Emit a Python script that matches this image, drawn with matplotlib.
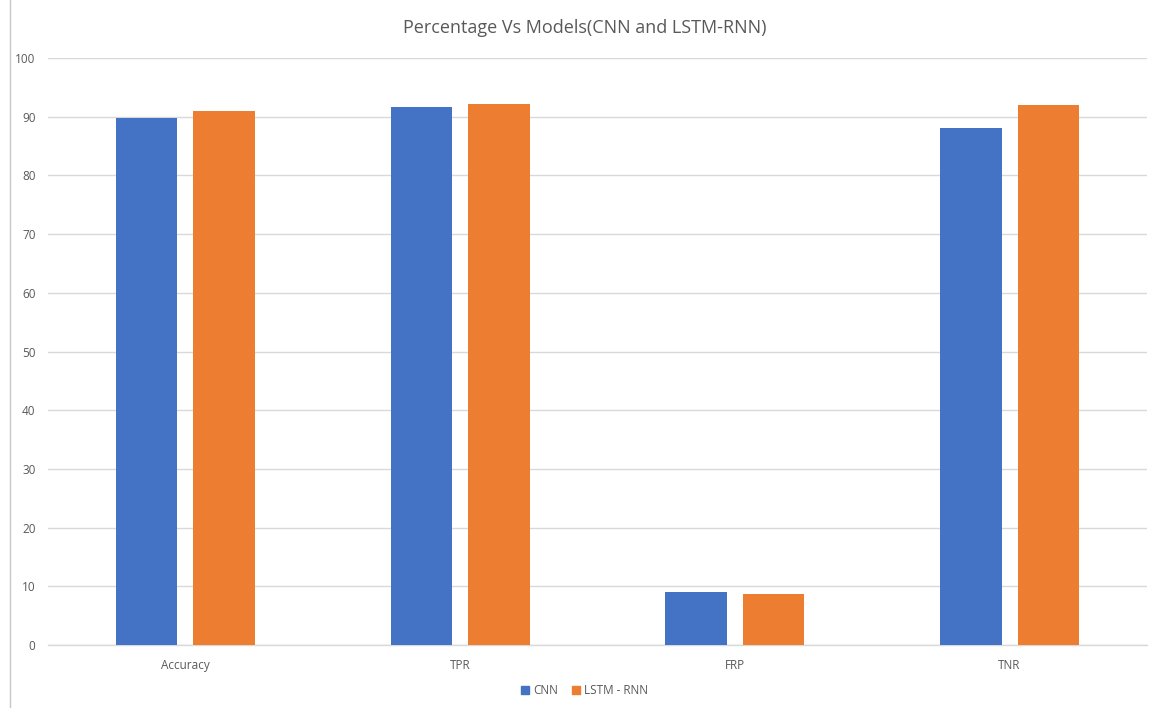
import matplotlib
matplotlib.use('Agg')
import matplotlib.pyplot as plt
from matplotlib.lines import Line2D
import numpy as np

plt.rcParams['font.family'] = ['Open Sans', 'DejaVu Sans']

metrics = ['Accuracy', 'TPR', 'FRP', 'TNR']
cnn = [89.8, 91.7, 9.0, 88.0]
lstm_rnn = [91.0, 92.2, 8.7, 92.0]
series_names = ['CNN', 'LSTM - RNN']

blue = '#4472C4'
orange = '#ED7D31'
text_grey = '#595959'

fig = plt.figure(figsize=(11.55, 7.08), dpi=100)
ax = fig.add_axes([0.0416, 0.089, 0.9514, 0.829])

x = np.arange(len(metrics))
w = 0.224
gap = 0.058
ax.bar(x - (w + gap) / 2, cnn, w, color=blue, label=series_names[0], zorder=3)
ax.bar(x + (w + gap) / 2, lstm_rnn, w, color=orange, label=series_names[1], zorder=3)

ax.set_xlim(-0.5, len(metrics) - 0.5)
ax.set_ylim(0, 100)
ax.set_yticks(np.arange(0, 101, 10))
ax.set_xticks(x)
ax.set_xticklabels(metrics)
ax.tick_params(axis='both', length=0, labelsize=8.5, colors=text_grey)
ax.tick_params(axis='x', pad=10)
ax.tick_params(axis='y', pad=9)
ax.grid(axis='y', color='#d9d9d9', linewidth=1, zorder=0)
for side in ['top', 'right', 'left']:
    ax.spines[side].set_visible(False)
ax.spines['bottom'].set_color('#d9d9d9')
ax.spines['bottom'].set_linewidth(1)

fig.text(0.506, 0.96, 'Percentage Vs Models(CNN and LSTM-RNN)', ha='center', va='center',
         fontsize=13, color=text_grey)

# chart frame edge on the left
fig.add_artist(Line2D([0.0087, 0.0087], [0.0, 1.0], color='#c8c8c8', linewidth=1))

handles = [plt.Rectangle((0, 0), 1, 1, color=blue), plt.Rectangle((0, 0), 1, 1, color=orange)]
fig.legend(handles, series_names, loc='center', bbox_to_anchor=(0.506, 0.025), ncol=2,
           frameon=False, fontsize=8.5, labelcolor=text_grey, handlelength=0.7,
           handleheight=0.7, handletextpad=0.3, columnspacing=1.2)

fig.savefig('out.png', dpi=100, facecolor='white')
